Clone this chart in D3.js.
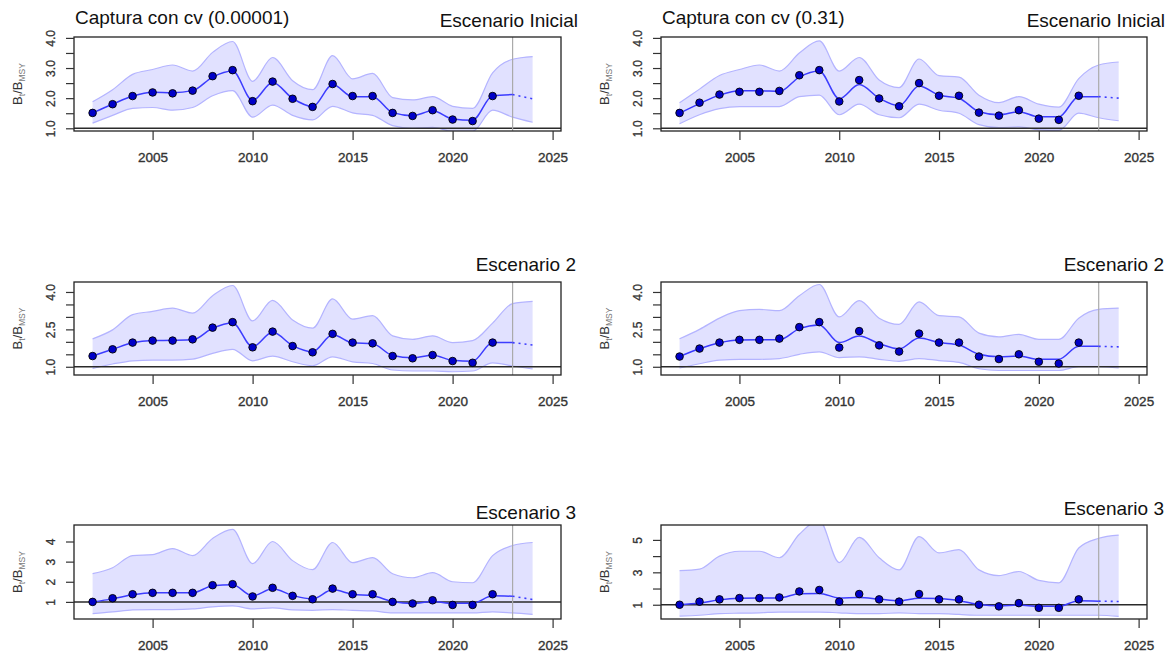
<!DOCTYPE html>
<html>
<head>
<meta charset="utf-8">
<script src="https://cdn.jsdelivr.net/npm/d3@7"></script>
<style>
  body { margin: 0; background: #fff; }
  svg { display: block; font-family: "Liberation Sans", Arial, sans-serif; }
</style>
</head>
<body>
<svg id="chart" width="1169" height="652"></svg>
<script>
// Years covered by the band and the fitted trajectory (last two are projections)
const years = [2002, 2003, 2004, 2005, 2006, 2007, 2008, 2009, 2010, 2011, 2012,
               2013, 2014, 2015, 2016, 2017, 2018, 2019, 2020, 2021, 2022, 2023, 2024];
// Years with annual point estimates
const pointYears = years.slice(0, 21);
const xTicks = [2005, 2010, 2015, 2020, 2025];
const projectionStart = 2023;

// Escenario Inicial, cv 0.00001
const tlPoints = [1.51, 1.80, 2.07, 2.19, 2.16, 2.25, 2.73, 2.93, 1.90, 2.55, 1.98, 1.71, 2.47, 2.07, 2.07, 1.51, 1.41, 1.60, 1.29, 1.24, 2.07];
const tlLine   = [1.51, 1.80, 2.07, 2.20, 2.18, 2.25, 2.70, 2.90, 1.92, 2.52, 1.99, 1.72, 2.45, 2.05, 2.05, 1.52, 1.42, 1.58, 1.31, 1.27, 2.08, 2.12, 1.98];
const tlUpper  = [1.88, 2.28, 2.79, 2.95, 3.10, 2.90, 3.52, 3.88, 2.56, 3.35, 2.58, 2.28, 3.41, 2.64, 2.82, 2.02, 1.94, 2.05, 1.73, 1.66, 2.84, 3.29, 3.38];
const tlLower  = [1.17, 1.43, 1.66, 1.69, 1.60, 1.69, 2.08, 2.25, 1.37, 1.77, 1.43, 1.28, 1.73, 1.51, 1.43, 1.09, 1.00, 1.03, 0.90, 0.90, 1.60, 1.37, 1.20];

// Escenario Inicial, cv 0.31
const trPoints = [1.51, 1.85, 2.12, 2.21, 2.21, 2.24, 2.76, 2.93, 1.89, 2.60, 1.99, 1.73, 2.50, 2.08, 2.08, 1.52, 1.42, 1.60, 1.32, 1.28, 2.08];
const trLine   = [1.50, 1.82, 2.10, 2.25, 2.25, 2.22, 2.70, 2.90, 1.98, 2.45, 2.00, 1.75, 2.40, 2.10, 2.00, 1.55, 1.45, 1.55, 1.38, 1.38, 2.05, 2.05, 2.00];
const trUpper  = [1.85, 2.30, 2.75, 2.95, 3.10, 2.90, 3.50, 3.90, 2.90, 3.35, 2.60, 2.35, 3.30, 2.75, 2.70, 2.10, 1.85, 2.05, 1.80, 1.70, 2.65, 3.10, 3.20];
const trLower  = [1.15, 1.45, 1.65, 1.72, 1.72, 1.72, 2.05, 2.10, 1.45, 1.80, 1.45, 1.35, 1.80, 1.60, 1.50, 1.12, 1.02, 1.05, 0.95, 0.93, 1.50, 1.35, 1.25];

// Escenario 2, cv 0.00001
const mlPoints = [1.43, 1.70, 1.97, 2.05, 2.05, 2.10, 2.57, 2.79, 1.78, 2.41, 1.83, 1.58, 2.32, 1.97, 1.94, 1.43, 1.34, 1.47, 1.23, 1.16, 1.97];
const mlLine   = [1.43, 1.70, 1.96, 2.05, 2.06, 2.08, 2.55, 2.76, 1.80, 2.38, 1.85, 1.60, 2.28, 1.96, 1.92, 1.45, 1.36, 1.46, 1.26, 1.22, 1.97, 1.97, 1.87];
const mlUpper  = [2.12, 2.48, 3.09, 3.22, 3.35, 3.15, 3.85, 4.26, 2.84, 3.66, 2.88, 2.55, 3.72, 2.91, 3.05, 2.24, 2.10, 2.24, 1.97, 2.05, 2.75, 3.53, 3.62];
const mlLower  = [0.93, 1.11, 1.24, 1.27, 1.27, 1.31, 1.54, 1.70, 1.24, 1.43, 1.20, 1.04, 1.40, 1.20, 1.13, 0.87, 0.83, 0.83, 0.80, 0.83, 1.16, 1.03, 0.91];

// Escenario 2, cv 0.31
const mrPoints = [1.41, 1.73, 1.97, 2.08, 2.08, 2.13, 2.59, 2.79, 1.77, 2.43, 1.86, 1.61, 2.33, 1.97, 1.97, 1.41, 1.31, 1.50, 1.20, 1.13, 1.97];
const mrLine   = [1.41, 1.72, 1.96, 2.07, 2.08, 2.08, 2.53, 2.68, 1.97, 2.23, 1.93, 1.72, 2.15, 1.97, 1.87, 1.50, 1.40, 1.43, 1.30, 1.30, 1.82, 1.82, 1.80];
const mrUpper  = [2.12, 2.50, 2.95, 3.25, 3.30, 3.25, 3.85, 4.30, 3.00, 3.65, 2.95, 2.70, 3.60, 3.05, 3.00, 2.35, 2.20, 2.30, 2.10, 2.10, 2.95, 3.30, 3.35];
const mrLower  = [0.95, 1.12, 1.27, 1.30, 1.30, 1.33, 1.50, 1.60, 1.37, 1.40, 1.30, 1.22, 1.33, 1.25, 1.18, 0.92, 0.85, 0.85, 0.85, 0.85, 1.00, 1.00, 0.95];

// Escenario 3, cv 0.00001
const blPoints = [1.00, 1.18, 1.38, 1.45, 1.45, 1.45, 1.83, 1.88, 1.27, 1.70, 1.30, 1.13, 1.66, 1.38, 1.38, 1.00, 0.92, 1.08, 0.85, 0.85, 1.38];
const blLine   = [1.00, 1.15, 1.35, 1.45, 1.45, 1.45, 1.80, 1.85, 1.30, 1.65, 1.32, 1.15, 1.60, 1.38, 1.30, 1.02, 0.92, 1.02, 0.93, 0.93, 1.30, 1.28, 1.12];
const blUpper  = [2.40, 2.70, 3.30, 3.35, 3.65, 3.30, 4.15, 4.60, 2.90, 4.00, 3.05, 2.60, 3.95, 2.95, 3.20, 2.40, 2.20, 2.45, 2.00, 1.95, 3.30, 3.80, 3.95];
const blLower  = [0.42, 0.50, 0.60, 0.62, 0.62, 0.65, 0.75, 0.80, 0.65, 0.70, 0.60, 0.58, 0.62, 0.58, 0.55, 0.45, 0.45, 0.45, 0.45, 0.45, 0.50, 0.45, 0.38];

// Escenario 3, cv 0.31
const brPoints = [1.00, 1.19, 1.33, 1.41, 1.41, 1.45, 1.82, 1.91, 1.19, 1.66, 1.33, 1.19, 1.66, 1.33, 1.33, 1.00, 0.90, 1.10, 0.81, 0.81, 1.33];
const brLine   = [1.00, 1.10, 1.30, 1.40, 1.42, 1.42, 1.68, 1.70, 1.42, 1.45, 1.35, 1.25, 1.40, 1.38, 1.25, 1.02, 0.93, 0.98, 0.90, 0.90, 1.25, 1.22, 1.20];
const brUpper  = [3.10, 3.20, 4.00, 4.30, 4.30, 3.90, 5.35, 6.20, 3.60, 5.16, 3.90, 3.15, 5.20, 4.20, 4.40, 3.15, 2.80, 3.05, 2.50, 2.35, 4.50, 5.10, 5.30];
const brLower  = [0.30, 0.35, 0.45, 0.48, 0.50, 0.55, 0.55, 0.55, 0.50, 0.45, 0.45, 0.50, 0.45, 0.45, 0.40, 0.35, 0.35, 0.35, 0.35, 0.35, 0.35, 0.35, 0.28];

// Y-axis ticks and which of them carry a label
const yTicksTop = [1, 1.5, 2, 2.5, 3, 3.5, 4];
const yLabelsTop = ["1.0", "2.0", "3.0", "4.0"];
const yTicksMid = [1, 1.5, 2, 2.5, 3, 3.5, 4];
const yLabelsMid = ["1.0", "2.5", "4.0"];
const yTicksBotL = [1, 2, 3, 4];
const yLabelsBotL = ["1", "2", "3", "4"];
const yTicksBotR = [1, 2, 3, 4, 5];
const yLabelsBotR = ["1", "3", "5"];

const columnTitles = ["Captura con cv (0.00001)", "Captura con cv (0.31)"];
const rowTitles = ["Escenario Inicial", "Escenario 2", "Escenario 3"];

// Layout
const cols = [{ x0: 74, x1: 561 }, { x0: 661, x1: 1147 }];
const rows = [{ y0: 37, y1: 131 }, { y0: 282, y1: 375 }, { y0: 525, y1: 619 }];
const xDomain = [2001.07, 2025.42];

const panels = [
  { r: 0, c: 0, pts: tlPoints, line: tlLine, up: tlUpper, lo: tlLower, yDom: [0.91, 4.03], ticks: yTicksTop, labels: yLabelsTop },
  { r: 0, c: 1, pts: trPoints, line: trLine, up: trUpper, lo: trLower, yDom: [0.91, 4.03], ticks: yTicksTop, labels: yLabelsTop },
  { r: 1, c: 0, pts: mlPoints, line: mlLine, up: mlUpper, lo: mlLower, yDom: [0.67, 4.40], ticks: yTicksMid, labels: yLabelsMid },
  { r: 1, c: 1, pts: mrPoints, line: mrLine, up: mrUpper, lo: mrLower, yDom: [0.67, 4.40], ticks: yTicksMid, labels: yLabelsMid },
  { r: 2, c: 0, pts: blPoints, line: blLine, up: blUpper, lo: blLower, yDom: [0.15, 4.82], ticks: yTicksBotL, labels: yLabelsBotL },
  { r: 2, c: 1, pts: brPoints, line: brLine, up: brUpper, lo: brLower, yDom: [0.12, 5.92], ticks: yTicksBotR, labels: yLabelsBotR }
];

const titleBaselines = [[27, 27], [271, 271], [519, 515]];
const titleRightEdges = [[578, 1165], [576, 1164], [576, 1164]];

const svg = d3.select("#chart");

panels.forEach((p, i) => {
  const col = cols[p.c], row = rows[p.r];
  const x = d3.scaleLinear().domain(xDomain).range([col.x0, col.x1]);
  const y = d3.scaleLinear().domain(p.yDom).range([row.y1, row.y0]);
  const g = svg.append("g");

  const clipId = "clip" + i;
  g.append("clipPath").attr("id", clipId)
    .append("rect").attr("x", col.x0).attr("y", row.y0)
    .attr("width", col.x1 - col.x0).attr("height", row.y1 - row.y0);

  const plot = g.append("g").attr("clip-path", `url(#${clipId})`);

  const bandData = years.map((yr, k) => ({ yr, lo: p.lo[k], up: p.up[k] }));
  const curve = d3.curveMonotoneX;

  // Uncertainty band
  plot.append("path")
    .datum(bandData)
    .attr("d", d3.area().curve(curve).x(d => x(d.yr)).y0(d => y(d.lo)).y1(d => y(d.up)))
    .attr("fill", "#e1e1ff");
  ["up", "lo"].forEach(key => {
    plot.append("path")
      .datum(bandData)
      .attr("d", d3.line().curve(curve).x(d => x(d.yr)).y(d => y(d[key])))
      .attr("fill", "none").attr("stroke", "#b4b4ff").attr("stroke-width", 1.2);
  });

  // Reference level B/Bmsy = 1
  plot.append("line")
    .attr("x1", col.x0).attr("x2", col.x1)
    .attr("y1", y(1)).attr("y2", y(1))
    .attr("stroke", "#2a2a2a").attr("stroke-width", 1.5);

  // Start of projection
  plot.append("line")
    .attr("x1", x(projectionStart)).attr("x2", x(projectionStart))
    .attr("y1", row.y0).attr("y2", row.y1)
    .attr("stroke", "#aaaaaa").attr("stroke-width", 1.2);

  // Fitted trajectory: solid up to the projection start, dotted afterwards
  const lineData = years.map((yr, k) => ({ yr, v: p.line[k] }));
  const lineGen = d3.line().curve(curve).x(d => x(d.yr)).y(d => y(d.v));
  plot.append("path")
    .datum(lineData.filter(d => d.yr <= projectionStart))
    .attr("d", lineGen)
    .attr("fill", "none").attr("stroke", "#3c3cff").attr("stroke-width", 1.5);
  plot.append("path")
    .datum(lineData.filter(d => d.yr >= projectionStart))
    .attr("d", lineGen)
    .attr("fill", "none").attr("stroke", "#3c3cff").attr("stroke-width", 1.6)
    .attr("stroke-dasharray", "2,4");

  // Annual estimates
  plot.selectAll("circle")
    .data(pointYears.map((yr, k) => ({ yr, v: p.pts[k] })))
    .join("circle")
    .attr("cx", d => x(d.yr)).attr("cy", d => y(d.v)).attr("r", 3.8)
    .attr("fill", "#0000c8").attr("stroke", "#000").attr("stroke-width", 0.9);

  // Frame
  g.append("rect")
    .attr("x", col.x0).attr("y", row.y0)
    .attr("width", col.x1 - col.x0).attr("height", row.y1 - row.y0)
    .attr("fill", "none").attr("stroke", "#222").attr("stroke-width", 1.3);

  // X axis
  const xAxis = g.append("g").attr("transform", `translate(0,${row.y1})`)
    .call(d3.axisBottom(x).tickValues(xTicks).tickFormat(d3.format("d")).tickSize(9).tickPadding(12));
  xAxis.select(".domain").remove();
  xAxis.selectAll("line").attr("stroke", "#333").attr("stroke-width", 1.2);
  xAxis.selectAll("text").attr("font-size", 13.5).attr("fill", "#333")
    .attr("stroke", "#333").attr("stroke-width", 0.35)
    .attr("font-family", "Liberation Sans, Arial, sans-serif");

  // Y axis, labels parallel to the axis
  const yAxis = g.append("g").attr("transform", `translate(${col.x0},0)`)
    .call(d3.axisLeft(y).tickValues(p.ticks).tickSize(8)
      .tickFormat(d => {
        const s = p.labels.find(l => +l === d);
        return s === undefined ? "" : s;
      }));
  yAxis.select(".domain").remove();
  yAxis.selectAll("line").attr("stroke", "#333").attr("stroke-width", 1.2);
  yAxis.selectAll("text")
    .attr("transform", "rotate(-90)")
    .attr("x", 0).attr("y", -19).attr("dy", 0)
    .attr("text-anchor", "middle")
    .attr("font-size", 12).attr("fill", "#333")
    .attr("stroke", "#333").attr("stroke-width", 0.3)
    .attr("font-family", "Liberation Sans, Arial, sans-serif");

  // Y axis title
  const yt = g.append("text")
    .attr("transform", `translate(${col.x0 - 52},${(row.y0 + row.y1) / 2}) rotate(-90)`)
    .attr("text-anchor", "middle")
    .attr("font-size", 13).attr("fill", "#333");
  yt.append("tspan").text("B");
  yt.append("tspan").attr("font-size", 8.5).attr("dy", 3).attr("fill", "#777").text("t");
  yt.append("tspan").attr("dy", -3).text("/B");
  yt.append("tspan").attr("font-size", 8.5).attr("dy", 3).attr("fill", "#777").text("MSY");

  // Scenario title, right aligned
  svg.append("text")
    .attr("x", titleRightEdges[p.r][p.c]).attr("y", titleBaselines[p.r][p.c])
    .attr("text-anchor", "end").attr("font-size", 19).attr("fill", "#111")
    .text(rowTitles[p.r]);
});

// Column titles
columnTitles.forEach((t, c) => {
  svg.append("text")
    .attr("x", cols[c].x0 + 1).attr("y", 24)
    .attr("font-size", 19).attr("fill", "#111")
    .text(t);
});
</script>
</body>
</html>
